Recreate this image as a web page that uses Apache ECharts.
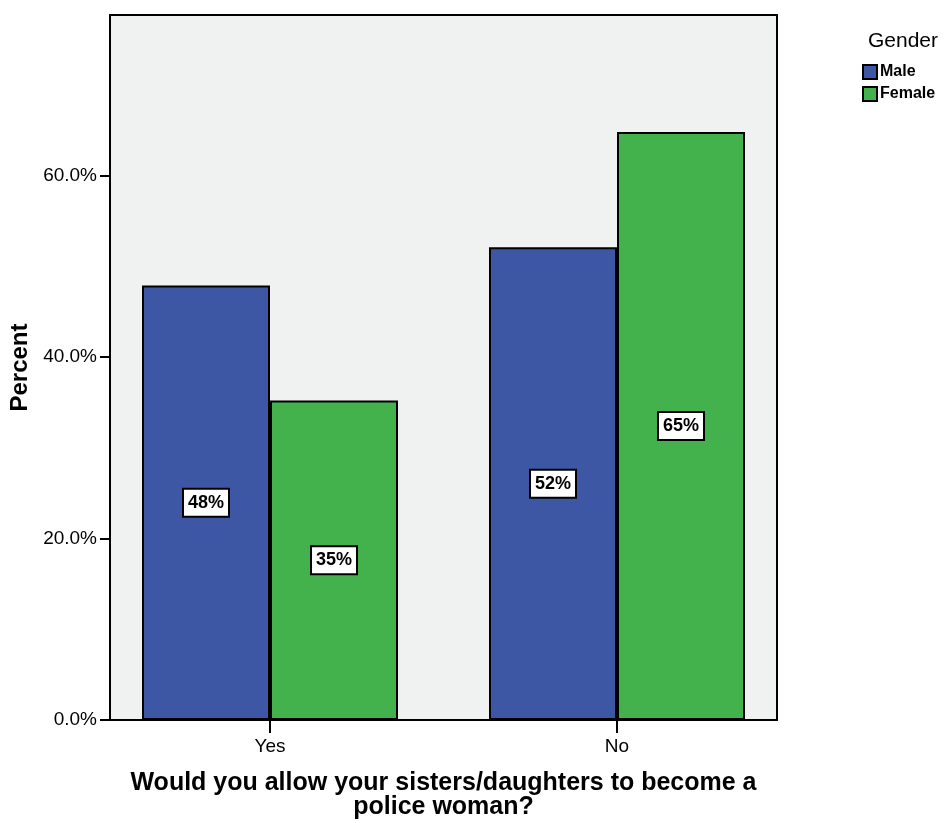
<!DOCTYPE html>
<html>
<head>
<meta charset="utf-8">
<script src="https://cdn.jsdelivr.net/npm/echarts@6/dist/echarts.min.js"></script>
<style>
  html, body { margin: 0; padding: 0; background: #fff; }
  #chart { width: 944px; height: 823px; }
</style>
</head>
<body>
<div id="chart"></div>
<script>
// data
const categories = ["Yes", "No"];
const maleValues = [47.9, 52.1];
const femaleValues = [35.2, 64.8];
const maleLabels = ["48%", "52%"];
const femaleLabels = ["35%", "65%"];
const yTicks = [0, 20, 40, 60];

const FONT = "Liberation Sans, Arial, Helvetica, sans-serif";
const Y_MAX = 77.7;

const chart = echarts.init(document.getElementById("chart"));

function barLabel(texts) {
  return {
    show: true,
    position: "inside",
    formatter: (p) => texts[p.dataIndex],
    color: "#000",
    fontFamily: FONT,
    fontWeight: "bold",
    fontSize: 18,
    backgroundColor: "#fff",
    borderColor: "#000",
    borderWidth: 2,
    padding: [5, 4, 3, 4],
  };
}

const option = {
  animation: false,
  backgroundColor: "#fff",
  title: {
    text: "Gender",
    left: 863,
    top: 26,
    textStyle: { fontFamily: FONT, fontSize: 21, fontWeight: "normal", color: "#000" },
  },
  legend: {
    orient: "vertical",
    left: 862,
    top: 64,
    padding: 0,
    itemWidth: 14,
    itemHeight: 14,
    itemGap: 6,
    icon: "rect",
    textStyle: { fontFamily: FONT, fontSize: 16, fontWeight: "bold", color: "#000", padding: [0, 0, 0, -2] },
    data: ["Male", "Female"],
  },
  grid: [
    // frame with background and y axis
    {
      left: 110, right: 167, top: 15, bottom: 103,
      outerBoundsMode: "none",
      containLabel: false,
      show: true,
      backgroundColor: "#f0f1f1",
      borderColor: "#000",
      borderWidth: 2,
    },
    // bars
    { left: 96.5, right: 153.5, top: 15, bottom: 103, outerBoundsMode: "none", containLabel: false },
  ],
  xAxis: [
    { gridIndex: 0, type: "category", data: categories, show: false },
    {
      gridIndex: 1,
      type: "category",
      data: categories,
      axisLine: { show: false },
      axisTick: { show: true, alignWithLabel: true, length: 13, lineStyle: { color: "#000", width: 2 } },
      axisLabel: { fontFamily: FONT, fontSize: 19, color: "#000", margin: 17 },
      name: "Would you allow your sisters/daughters to become a\npolice woman?",
      nameLocation: "middle",
      nameGap: 51,
      nameTextStyle: { fontFamily: FONT, fontSize: 25, fontWeight: "bold", color: "#000", lineHeight: 24 },
    },
  ],
  yAxis: [
    {
      gridIndex: 0,
      type: "value",
      min: 0,
      max: Y_MAX,
      splitLine: { show: false },
      axisLine: { show: true, lineStyle: { color: "#000", width: 2 } },
      axisTick: { show: true, length: 10, customValues: yTicks, lineStyle: { color: "#000", width: 2 } },
      axisLabel: {
        customValues: yTicks,
        fontFamily: FONT, fontSize: 19, color: "#000", margin: 13,
        formatter: (v) => v.toFixed(1) + "%",
      },
      name: "Percent",
      nameLocation: "middle",
      nameGap: 77,
      nameTextStyle: { fontFamily: FONT, fontSize: 24, fontWeight: "bold", color: "#000" },
    },
    { gridIndex: 1, type: "value", min: 0, max: Y_MAX, show: false, splitLine: { show: false } },
  ],
  series: [
    {
      name: "Male",
      type: "bar",
      xAxisIndex: 1,
      yAxisIndex: 1,
      data: maleValues,
      barWidth: 128,
      barGap: "0%",
      itemStyle: { color: "#3e57a5", borderColor: "#000", borderWidth: 2 },
      label: barLabel(maleLabels),
    },
    {
      name: "Female",
      type: "bar",
      xAxisIndex: 1,
      yAxisIndex: 1,
      data: femaleValues,
      barWidth: 128,
      barGap: "0%",
      itemStyle: { color: "#43b24c", borderColor: "#000", borderWidth: 2 },
      label: barLabel(femaleLabels),
    },
  ],
};

chart.setOption(option);
</script>
</body>
</html>
